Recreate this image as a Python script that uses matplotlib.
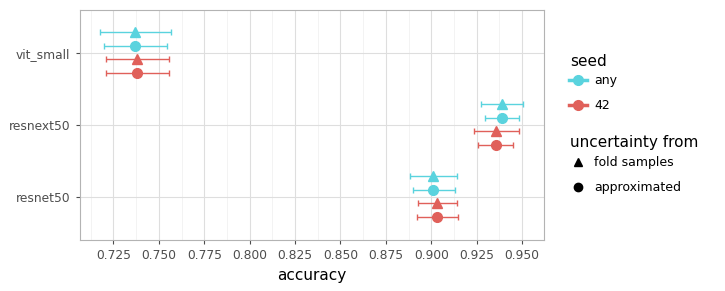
import matplotlib.pyplot as plt
from matplotlib.lines import Line2D

models = ['resnet50', 'resnext50', 'vit_small']
seeds = ['any', '42']
sources = ['fold samples', 'approximated']

# accuracy, lower, upper  (per model, in order of `models`)
any_fold = [0.9010, 0.9389, 0.7369]
any_fold_lo = [0.8883, 0.9274, 0.7174]
any_fold_hi = [0.9144, 0.9503, 0.7569]

any_appr = [0.9010, 0.9387, 0.7369]
any_appr_lo = [0.8899, 0.9296, 0.7199]
any_appr_hi = [0.9131, 0.9484, 0.7544]

s42_fold = [0.9031, 0.9354, 0.7380]
s42_fold_lo = [0.8925, 0.9234, 0.7210]
s42_fold_hi = [0.9144, 0.9481, 0.7555]

s42_appr = [0.9031, 0.9354, 0.7380]
s42_appr_lo = [0.8921, 0.9258, 0.7210]
s42_appr_hi = [0.9150, 0.9453, 0.7555]

colores = {'any': '#5ad3de', '42': '#e0605a'}
marcadores = {'fold samples': '^', 'approximated': 'o'}

series = [
    ('any', 'fold samples', any_fold, any_fold_lo, any_fold_hi, 0.29),
    ('any', 'approximated', any_appr, any_appr_lo, any_appr_hi, 0.10),
    ('42', 'fold samples', s42_fold, s42_fold_lo, s42_fold_hi, -0.09),
    ('42', 'approximated', s42_appr, s42_appr_lo, s42_appr_hi, -0.28),
]

fig = plt.figure(figsize=(7.25, 2.91), dpi=100)
ax = fig.add_axes([79.5 / 725, 1 - 240 / 291, (544 - 79.5) / 725, (240 - 9.5) / 291])

for seed, fuente, vals, lo, hi, off in series:
    ys = [i + off for i in range(len(models))]
    err = [[v - l for v, l in zip(vals, lo)], [h - v for v, h in zip(vals, hi)]]
    ax.errorbar(vals, ys, xerr=err, fmt='none', ecolor=colores[seed],
                elinewidth=1, capsize=2, capthick=1, zorder=2)
    ax.plot(vals, ys, linestyle='none', marker=marcadores[fuente],
            color=colores[seed], markersize=7.5 if fuente == 'fold samples' else 7,
            zorder=3)

ax.set_xlim(0.7063, 0.9621)
ax.set_ylim(-0.6, 2.6)
ax.set_yticks(range(len(models)))
ax.set_yticklabels(models)
ax.set_xticks([0.725 + 0.025 * i for i in range(10)])
ax.set_xticks([0.7125 + 0.025 * i for i in range(10)], minor=True)
ax.grid(True, which='major', color='#dedede', linewidth=0.8)
ax.grid(True, which='minor', axis='x', color='#efefef', linewidth=0.5)
ax.set_axisbelow(True)
for s in ax.spines.values():
    s.set_color('#b3b3b3')
ax.tick_params(axis='both', which='major', colors='#4d4d4d', labelsize=8.8, length=3)
ax.tick_params(axis='both', which='minor', length=0)
ax.set_xlabel('accuracy', fontsize=11)

# leyendas: titulos como texto aparte para controlar el espaciado
h_seed = [Line2D([0], [0], color=colores[s], marker='o', markersize=7, linewidth=2.5)
          for s in seeds]
h_src = [Line2D([0], [0], color='black', marker=marcadores[f], linestyle='none', markersize=6)
         for f in sources]
fig.text(570 / 725, 1 - 61 / 291, 'seed', fontsize=11, va='center', ha='left')
fig.legend(h_seed, seeds, loc='center left',
           bbox_to_anchor=(558 / 725, 1 - 93 / 291), frameon=False,
           fontsize=9, handlelength=1.4, handletextpad=0.6,
           labelspacing=0.95)
fig.text(570 / 725, 1 - 142 / 291, 'uncertainty from', fontsize=11, va='center', ha='left')
fig.legend(h_src, sources, loc='center left',
           bbox_to_anchor=(558 / 725, 1 - 175 / 291), frameon=False,
           fontsize=9, handlelength=1.4, handletextpad=0.6,
           labelspacing=0.95)

plt.savefig('out.png', dpi=100)
